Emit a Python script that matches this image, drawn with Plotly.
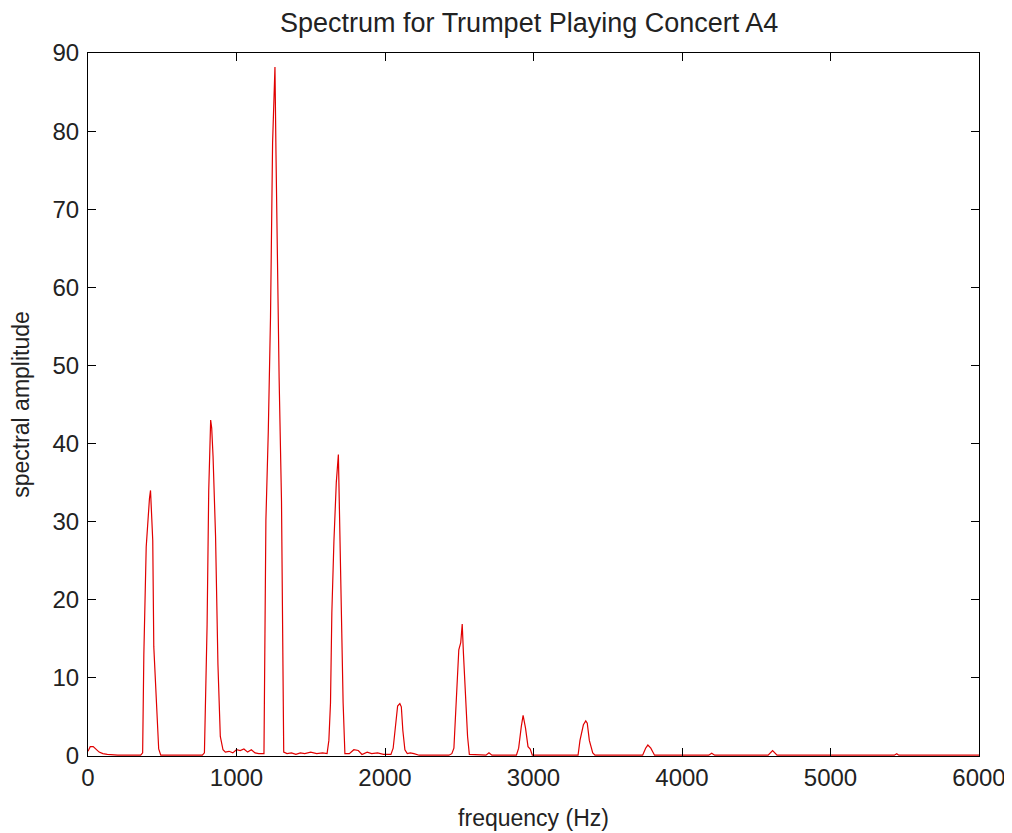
import plotly.graph_objects as go

# spectrum samples (Hz, amplitude)
freq_hz = [
    0, 15, 35, 55, 75, 100, 130, 200,
    355, 368, 376, 392, 405, 414, 421, 428, 436, 443, 461, 476, 490,
    770, 784, 789, 802, 813, 826, 833, 842, 859, 875, 891, 909,
    925, 950, 975, 1000, 1025, 1050, 1075, 1100, 1125, 1150,
    1185, 1198, 1214, 1229, 1243, 1259, 1266, 1274, 1287, 1303, 1318,
    1340, 1370, 1400, 1430, 1460, 1500, 1540, 1580,
    1610, 1622, 1633, 1642, 1656, 1672, 1686, 1693, 1707, 1718, 1730,
    1760, 1790, 1820, 1845, 1880, 1910, 1950, 1990,
    2040, 2055, 2067, 2085, 2100, 2110, 2120, 2134, 2150, 2170, 2195, 2230,
    2430, 2450, 2464, 2480, 2497, 2510, 2520, 2528, 2543, 2556, 2568,
    2680, 2700, 2720,
    2885, 2900, 2918, 2930, 2946, 2963, 2978, 2992,
    3300, 3313, 3336, 3352, 3362, 3376, 3399, 3414,
    3735, 3755, 3770, 3790, 3815,
    4180, 4200, 4220, 4580, 4610, 4640, 5430, 5446, 5460, 6000,
]
amplitude = [
    0.6, 1.2, 1.2, 0.9, 0.5, 0.3, 0.2, 0.1,
    0.1, 0.4, 13.0, 26.8, 31.5, 33.0, 34.0, 30.0, 27.6, 14.0, 5.6, 0.9, 0.1,
    0.1, 0.4, 4.2, 16.8, 34.0, 43.0, 42.0, 38.4, 28.1, 11.7, 2.5, 0.8,
    0.5, 0.6, 0.4, 0.8, 0.7, 0.9, 0.5, 0.8, 0.4, 0.3,
    0.3, 30.2, 41.5, 56.2, 78.5, 88.2, 77.0, 64.1, 48.4, 32.6, 0.5,
    0.3, 0.4, 0.2, 0.4, 0.3, 0.5, 0.3, 0.4,
    0.3, 2.0, 6.8, 18.3, 27.5, 35.0, 38.6, 31.6, 17.9, 6.8, 0.3,
    0.3, 0.8, 0.7, 0.2, 0.5, 0.3, 0.4, 0.2,
    0.2, 1.0, 3.3, 6.4, 6.7, 6.3, 3.3, 0.8, 0.3, 0.4, 0.3, 0.1,
    0.1, 0.3, 1.0, 7.6, 13.6, 14.5, 16.9, 13.2, 7.6, 2.5, 0.2,
    0.1, 0.4, 0.1,
    0.1, 1.0, 3.8, 5.2, 3.6, 1.2, 0.9, 0.1,
    0.1, 2.0, 4.0, 4.5, 4.2, 2.0, 0.4, 0.1,
    0.1, 1.0, 1.4, 1.0, 0.1,
    0.1, 0.35, 0.1, 0.1, 0.7, 0.1, 0.1, 0.3, 0.1, 0.1,
]

x_ticks = [0, 1000, 2000, 3000, 4000, 5000, 6000]
y_ticks = [0, 10, 20, 30, 40, 50, 60, 70, 80, 90]

font = "Liberation Sans, Arial, sans-serif"

fig = go.Figure(
    go.Scatter(
        x=freq_hz, y=amplitude, mode="lines",
        line=dict(color="#e00000", width=1.2),
        hoverinfo="x+y",
    )
)

axis_style = dict(
    showline=True, linecolor="black", linewidth=1, mirror="ticks",
    ticks="inside", ticklen=8, tickcolor="black", tickwidth=1,
    showgrid=False, zeroline=False, automargin=False,
    tickfont=dict(family=font, size=24, color="#222"),
)

# the page body adds an 8px offset, so margins are shifted to compensate
fig.update_layout(
    width=1012, height=833,
    margin=dict(l=80, r=41, t=45, b=85),
    paper_bgcolor="white", plot_bgcolor="white",
    showlegend=False,
    title=dict(
        text="Spectrum for Trumpet Playing Concert A4",
        x=0.515, xanchor="center", y=0.983, yanchor="middle",
        font=dict(family=font, size=27, color="#222"),
    ),
    xaxis=dict(
        range=[0, 6000], tickvals=x_ticks, ticklabelstandoff=0,
        title=dict(text="frequency (Hz)", standoff=20,
                   font=dict(family=font, size=23, color="#222")),
        **axis_style,
    ),
    yaxis=dict(
        range=[0, 90], tickvals=y_ticks, ticklabelstandoff=3,
        title=dict(text="spectral amplitude", standoff=18,
                   font=dict(family=font, size=23, color="#222")),
        **axis_style,
    ),
)

fig.write_html("out.html")
